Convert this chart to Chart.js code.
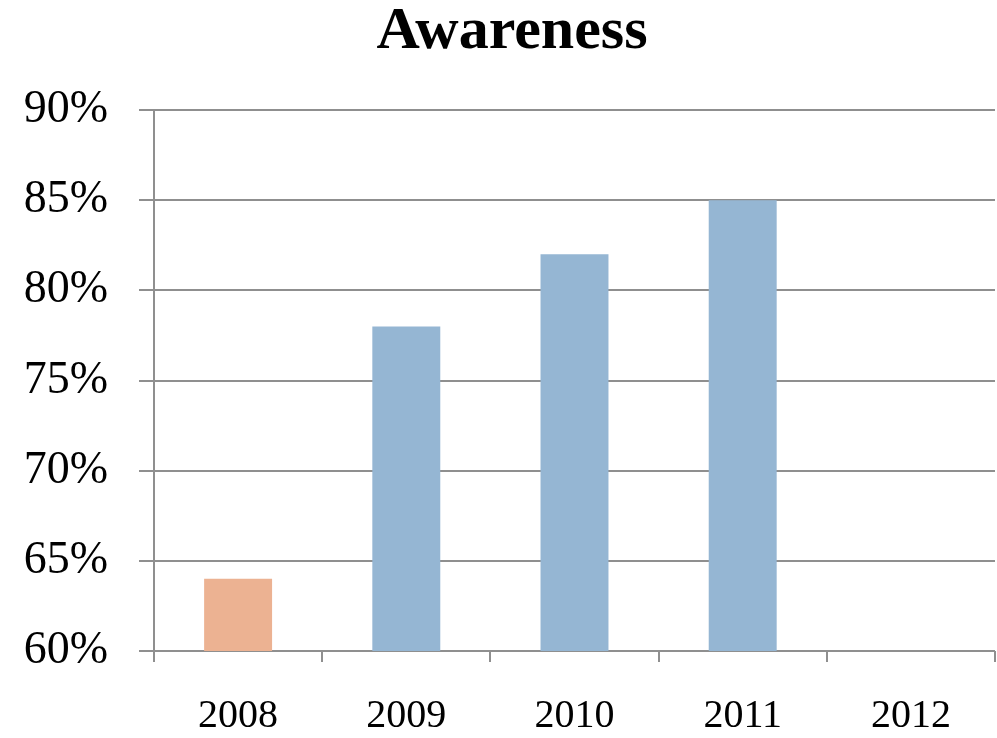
<!DOCTYPE html>
<html>
<head>
<meta charset="utf-8">
<script src="https://cdn.jsdelivr.net/npm/chart.js@4"></script>
<style>
html,body{margin:0;padding:0;background:#fff;}
#wrap{width:997px;height:738px;}
</style>
</head>
<body>
<div id="wrap"><canvas id="c" width="997" height="738"></canvas></div>
<script>
const title = "Awareness";
const categories = ["2008", "2009", "2010", "2011", "2012"];
const values = [64, 78, 82, 85, null];
const barColors = ["#ECB292", "#95B6D3", "#95B6D3", "#95B6D3", "#95B6D3"];
const yMin = 60, yMax = 90, yStep = 5;

const FONT = "'Liberation Serif', 'DejaVu Serif', serif";
const GRID = "#8f8f8f";

// Draws the (transparent, layout-only) title text shifted to match the reference.
const titleShift = {
  id: 'titleShift',
  afterDraw(chart) {
    const t = chart.titleBlock;
    if (!t) return;
    const ctx = chart.ctx;
    ctx.save();
    ctx.fillStyle = '#000';
    ctx.font = "bold 60px " + FONT;
    ctx.textAlign = 'center';
    ctx.textBaseline = 'middle';
    ctx.fillText(chart.options.plugins.title.text, 512, t.top + 32);
    ctx.restore();
  }
};

new Chart(document.getElementById('c'), {
  type: 'bar',
  data: {
    labels: categories,
    datasets: [{
      data: values,
      backgroundColor: barColors,
      borderWidth: 0,
      categoryPercentage: 1,
      barPercentage: 0.404
    }]
  },
  options: {
    responsive: false,
    animation: false,
    layout: { padding: { left: 0, right: 2, top: 0, bottom: 0 } },
    plugins: {
      legend: { display: false },
      tooltip: { enabled: false },
      title: {
        display: true,
        text: title,
        color: 'rgba(0,0,0,0)',
        font: { family: FONT, size: 60, weight: 'bold', lineHeight: 1.0 },
        padding: { top: 0, bottom: 50 }
      }
    },
    scales: {
      x: {
        grid: { display: true, drawOnChartArea: false, drawTicks: true, tickLength: 11, color: GRID, lineWidth: 2, offset: true },
        border: { display: false },
        ticks: { color: '#000', font: { family: FONT, size: 40 }, padding: 30, maxRotation: 0 },
        afterFit: (s) => { s.height = 87; }
      },
      y: {
        min: yMin, max: yMax,
        grid: { color: GRID, lineWidth: 2, tickLength: 15, drawTicks: true },
        border: { display: true, color: GRID, width: 2 },
        ticks: {
          stepSize: yStep,
          color: '#000',
          font: { family: FONT, size: 46 },
          padding: 31,
          callback: (v) => v + '%'
        },
        afterFit: (s) => { s.width = 154; }
      }
    }
  },
  plugins: [titleShift]
});
</script>
</body>
</html>
